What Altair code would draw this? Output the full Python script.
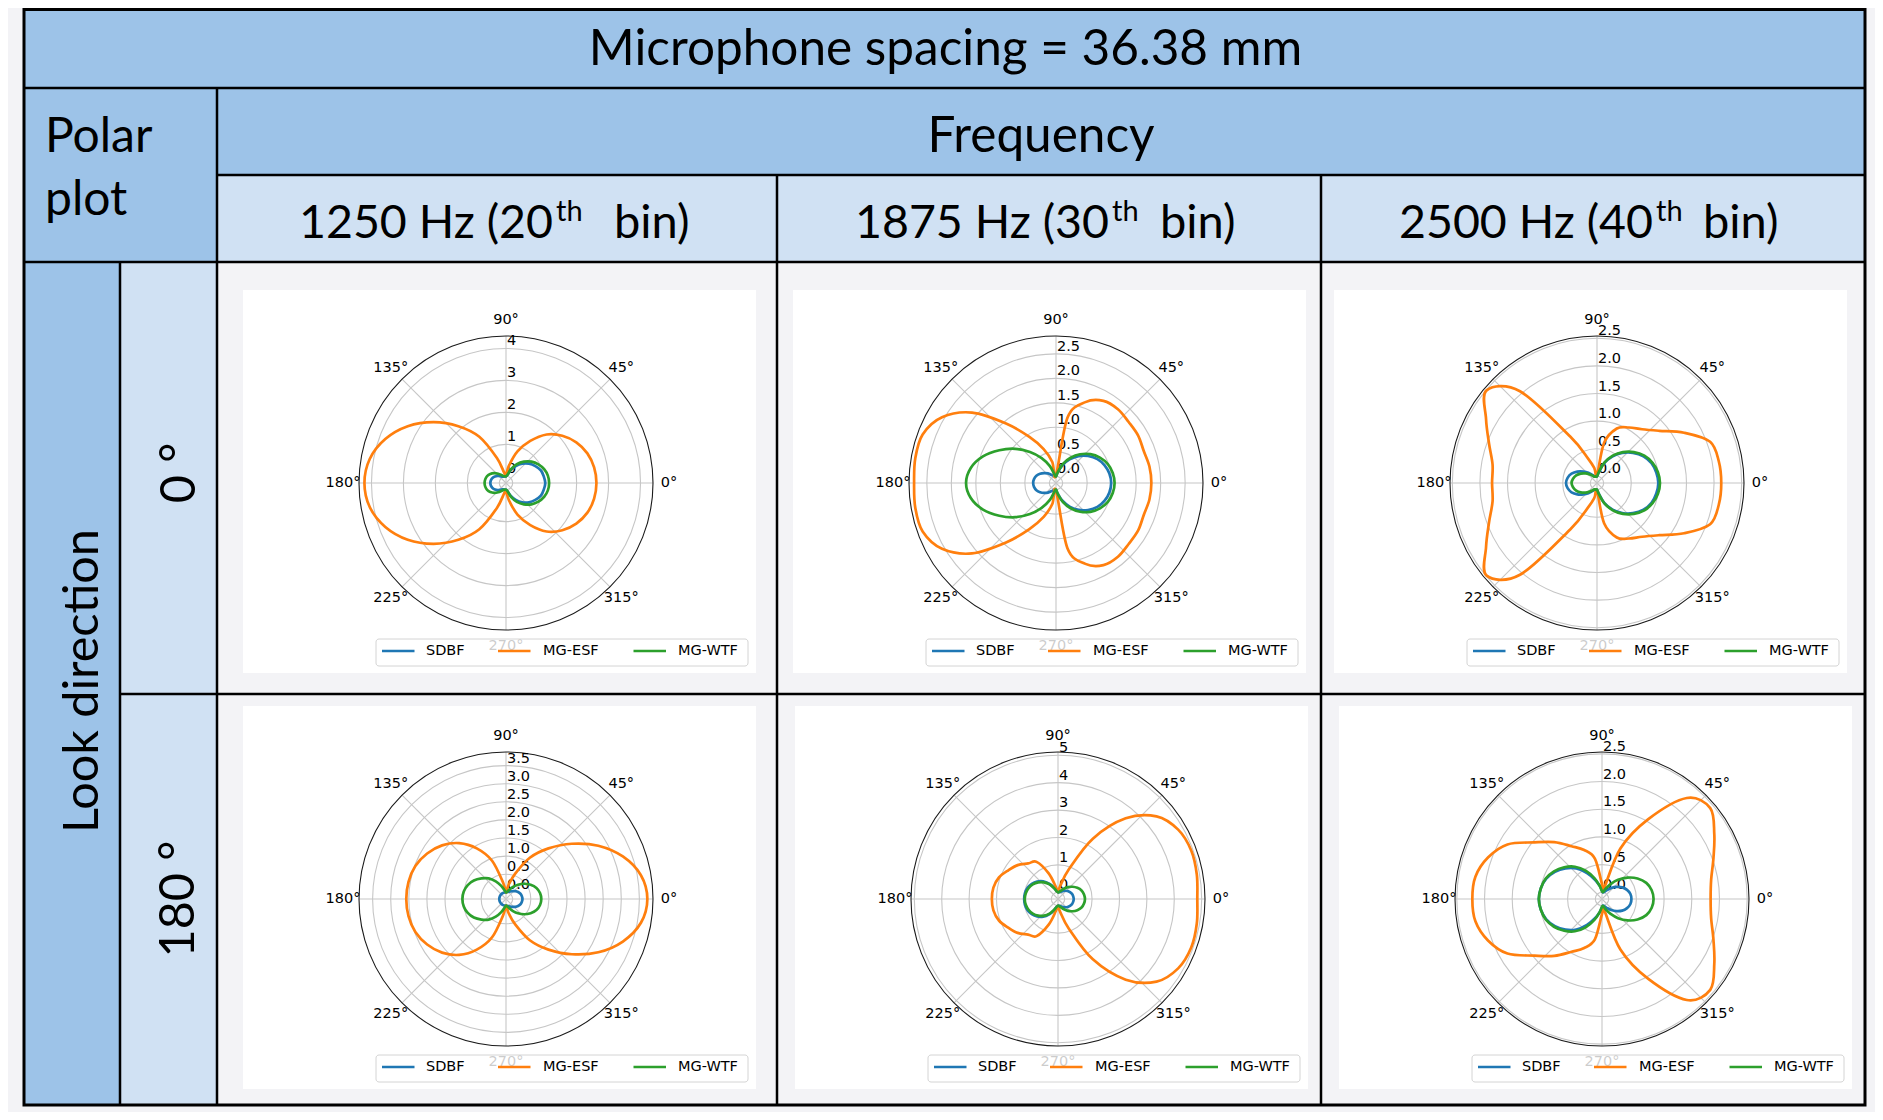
import altair as alt
import pandas as pd

# ---------------- beam-pattern magnitudes (every 10 deg, 0..350) ----------------
ANGLES = list(range(0, 360, 10))
SERIES = ["SDBF", "MG-ESF", "MG-WTF"]
SERIES_COLORS = ["#1f77b4", "#ff7f0e", "#2ca02c"]

# look direction 0 deg
L0_F1250_SDBF = [1.02, 0.99, 0.95, 0.85, 0.73, 0.58, 0.40, 0.21, 0.05, 0.0, 0.0, 0.0, 0.02, 0.07, 0.13, 0.19, 0.24, 0.27, 0.28, 0.27, 0.24, 0.19, 0.13, 0.07, 0.02, 0.0, 0.0, 0.0, 0.05, 0.21, 0.40, 0.58, 0.73, 0.85, 0.95, 0.99]
L0_F1250_ESF = [2.62, 2.59, 2.50, 2.33, 2.09, 1.77, 1.31, 0.84, 0.35, 0.05, 0.12, 0.62, 1.46, 2.11, 2.75, 3.34, 3.81, 4.12, 4.22, 4.12, 3.81, 3.34, 2.75, 2.11, 1.46, 0.62, 0.12, 0.05, 0.35, 0.84, 1.31, 1.77, 2.09, 2.33, 2.50, 2.59]
L0_F1250_WTF = [1.14, 1.12, 1.06, 0.96, 0.83, 0.66, 0.47, 0.25, 0.05, 0.0, 0.0, 0.02, 0.08, 0.17, 0.27, 0.36, 0.42, 0.45, 0.46, 0.45, 0.42, 0.36, 0.27, 0.17, 0.08, 0.02, 0.0, 0.0, 0.05, 0.25, 0.47, 0.66, 0.83, 0.96, 1.06, 1.12]

L0_F1875_SDBF = [0.99, 0.97, 0.92, 0.84, 0.72, 0.58, 0.42, 0.25, 0.09, 0.0, 0.0, 0.02, 0.06, 0.12, 0.18, 0.24, 0.29, 0.32, 0.33, 0.32, 0.29, 0.24, 0.18, 0.12, 0.06, 0.02, 0.0, 0.0, 0.09, 0.25, 0.42, 0.58, 0.72, 0.84, 0.92, 0.97]
L0_F1875_ESF = [1.81, 1.80, 1.77, 1.80, 1.80, 1.83, 1.80, 1.62, 1.22, 0.02, 0.30, 0.60, 0.95, 1.45, 2.10, 2.55, 2.76, 2.78, 2.76, 2.78, 2.76, 2.55, 2.10, 1.45, 0.95, 0.60, 0.30, 0.02, 1.22, 1.62, 1.80, 1.83, 1.80, 1.80, 1.77, 1.80]
L0_F1875_WTF = [1.06, 1.04, 0.99, 0.90, 0.78, 0.63, 0.46, 0.28, 0.10, 0.0, 0.04, 0.23, 0.45, 0.69, 0.95, 1.20, 1.45, 1.63, 1.70, 1.63, 1.45, 1.20, 0.95, 0.69, 0.45, 0.23, 0.04, 0.0, 0.10, 0.28, 0.46, 0.63, 0.78, 0.90, 0.99, 1.04]

L0_F2500_SDBF = [0.99, 0.97, 0.93, 0.85, 0.73, 0.59, 0.43, 0.26, 0.08, 0.0, 0.0, 0.01, 0.05, 0.12, 0.20, 0.29, 0.37, 0.42, 0.44, 0.42, 0.37, 0.29, 0.20, 0.12, 0.05, 0.01, 0.0, 0.0, 0.08, 0.26, 0.43, 0.59, 0.73, 0.85, 0.93, 0.97]
L0_F2500_ESF = [2.13, 2.12, 2.06, 1.70, 1.35, 1.15, 1.04, 0.93, 0.62, 0.02, 0.15, 0.35, 0.85, 2.05, 2.49, 2.20, 1.96, 1.80, 1.78, 1.80, 1.96, 2.20, 2.49, 2.05, 0.85, 0.35, 0.15, 0.02, 0.62, 0.93, 1.04, 1.15, 1.35, 1.70, 2.06, 2.12]
L0_F2500_WTF = [1.02, 1.00, 0.95, 0.87, 0.75, 0.61, 0.45, 0.27, 0.09, 0.0, 0.0, 0.0, 0.03, 0.08, 0.15, 0.22, 0.28, 0.32, 0.34, 0.32, 0.28, 0.22, 0.15, 0.08, 0.03, 0.0, 0.0, 0.0, 0.09, 0.27, 0.45, 0.61, 0.75, 0.87, 0.95, 1.00]

# look direction 180 deg
L180_F1250_SDBF = [0.27, 0.26, 0.24, 0.20, 0.15, 0.10, 0.06, 0.03, 0.01, 0.0, 0.0, 0.0, 0.0, 0.0, 0.0, 0.0, 0.0, 0.0, 0.0, 0.0, 0.0, 0.0, 0.0, 0.0, 0.0, 0.0, 0.0, 0.0, 0.01, 0.03, 0.06, 0.10, 0.15, 0.20, 0.24, 0.26]
L180_F1250_ESF = [3.72, 3.60, 3.25, 2.76, 2.19, 1.64, 1.13, 0.56, 0.20, 0.0, 0.27, 0.94, 1.43, 1.83, 2.12, 2.33, 2.48, 2.55, 2.57, 2.55, 2.48, 2.33, 2.12, 1.83, 1.43, 0.94, 0.27, 0.0, 0.20, 0.56, 1.13, 1.64, 2.19, 2.76, 3.25, 3.60]
L180_F1250_WTF = [0.79, 0.77, 0.71, 0.60, 0.47, 0.33, 0.20, 0.09, 0.02, 0.0, 0.06, 0.20, 0.38, 0.56, 0.70, 0.84, 0.94, 1.00, 1.02, 1.00, 0.94, 0.84, 0.70, 0.56, 0.38, 0.20, 0.06, 0.0, 0.02, 0.09, 0.20, 0.33, 0.47, 0.60, 0.71, 0.77]

L180_F1875_SDBF = [0.33, 0.32, 0.30, 0.26, 0.21, 0.15, 0.09, 0.04, 0.01, 0.0, 0.05, 0.20, 0.40, 0.60, 0.75, 0.86, 0.94, 0.98, 0.99, 0.98, 0.94, 0.86, 0.75, 0.60, 0.40, 0.20, 0.05, 0.0, 0.01, 0.04, 0.09, 0.15, 0.21, 0.26, 0.30, 0.32]
L180_F1875_ESF = [4.84, 4.90, 4.93, 4.82, 4.45, 3.60, 2.30, 0.90, 0.25, 0.02, 0.20, 0.75, 1.32, 1.45, 1.68, 1.85, 2.05, 2.15, 2.17, 2.15, 2.05, 1.85, 1.68, 1.45, 1.32, 0.75, 0.20, 0.02, 0.25, 0.90, 2.30, 3.60, 4.45, 4.82, 4.93, 4.90]
L180_F1875_WTF = [0.74, 0.72, 0.67, 0.57, 0.45, 0.32, 0.19, 0.08, 0.02, 0.0, 0.05, 0.18, 0.37, 0.55, 0.70, 0.82, 0.90, 0.95, 0.97, 0.95, 0.90, 0.82, 0.70, 0.55, 0.37, 0.18, 0.05, 0.0, 0.02, 0.08, 0.19, 0.32, 0.45, 0.57, 0.67, 0.72]

L180_F2500_SDBF = [0.41, 0.40, 0.36, 0.30, 0.22, 0.14, 0.07, 0.02, 0.0, 0.03, 0.12, 0.25, 0.42, 0.60, 0.74, 0.86, 0.95, 1.00, 1.02, 1.00, 0.95, 0.86, 0.74, 0.60, 0.42, 0.25, 0.12, 0.03, 0.0, 0.02, 0.07, 0.14, 0.22, 0.30, 0.36, 0.40]
L180_F2500_ESF = [1.84, 1.88, 2.02, 2.22, 2.43, 2.26, 1.54, 0.85, 0.07, 0.15, 0.62, 0.82, 0.98, 1.22, 1.47, 1.85, 2.07, 2.20, 2.22, 2.20, 2.07, 1.85, 1.47, 1.22, 0.98, 0.82, 0.62, 0.15, 0.07, 0.85, 1.54, 2.26, 2.43, 2.22, 2.02, 1.88]
L180_F2500_WTF = [0.81, 0.79, 0.73, 0.62, 0.48, 0.33, 0.19, 0.08, 0.01, 0.02, 0.12, 0.28, 0.47, 0.64, 0.77, 0.88, 0.96, 1.00, 1.02, 1.00, 0.96, 0.88, 0.77, 0.64, 0.47, 0.28, 0.12, 0.02, 0.01, 0.08, 0.19, 0.33, 0.48, 0.62, 0.73, 0.79]

PATTERNS = {
    "L0_F1250": [L0_F1250_SDBF, L0_F1250_ESF, L0_F1250_WTF],
    "L0_F1875": [L0_F1875_SDBF, L0_F1875_ESF, L0_F1875_WTF],
    "L0_F2500": [L0_F2500_SDBF, L0_F2500_ESF, L0_F2500_WTF],
    "L180_F1250": [L180_F1250_SDBF, L180_F1250_ESF, L180_F1250_WTF],
    "L180_F1875": [L180_F1875_SDBF, L180_F1875_ESF, L180_F1875_WTF],
    "L180_F2500": [L180_F2500_SDBF, L180_F2500_ESF, L180_F2500_WTF],
}

# radial axis of each polar panel
PANEL_KEYS = ["L0_F1250", "L0_F1875", "L0_F2500", "L180_F1250", "L180_F1875", "L180_F2500"]
PANEL_RMIN = [-0.21, -0.136, -0.121, -0.185, -0.244, -0.121]
PANEL_RMAX = [4.39, 2.864, 2.542, 3.876, 5.121, 2.533]
PANEL_TICKS = [
    [0, 1, 2, 3, 4],
    [0.0, 0.5, 1.0, 1.5, 2.0, 2.5],
    [0.0, 0.5, 1.0, 1.5, 2.0, 2.5],
    [0.0, 0.5, 1.0, 1.5, 2.0, 2.5, 3.0, 3.5],
    [0, 1, 2, 3, 4, 5],
    [0.0, 0.5, 1.0, 1.5, 2.0, 2.5],
]
PANEL_TICK_DECIMALS = [0, 1, 1, 1, 0, 1]
THETA_TICKS = [0, 45, 90, 135, 180, 225, 270, 315]

# table texts
TITLE = "Microphone spacing = 36.38 mm"
HEADER_FREQ = "Frequency"
HEADER_POLAR = ["Polar", "plot"]
FREQ_MAIN = ["1250 Hz (20", "1875 Hz (30", "2500 Hz (40"]
FREQ_SUP = ["th", "th", "th"]
FREQ_TAIL = ["bin)", "bin)", "bin)"]
ROW_HEADER = "Look direction"
ROW_LABELS = ["0 \u00b0", "180 \u00b0"]

# ---------------- layout (pixels) ----------------
W, H = 1867, 1104
X_SCALE = alt.Scale(domain=[8, 8 + W], range=[0, W], nice=False, zero=False)
Y_SCALE = alt.Scale(domain=[8, 8 + H], range=[0, H], nice=False, zero=False)

PANEL_CX = [506, 1056, 1597, 506, 1058, 1602]
PANEL_CY = [483, 483, 483, 899, 899, 899]
POLAR_R = 147
THETA_LABEL_R = 163

DARK = "#9DC3E8"
LIGHT = "#D0E1F3"
BG = "#F3F3F6"
GRID = "#c6c6c6"
TFONT = "Lato"
MFONT = "DejaVu Sans"


def ex(f):
    return alt.X(f"{f}:Q", scale=X_SCALE, axis=None)


def ey(f):
    return alt.Y(f"{f}:Q", scale=Y_SCALE, axis=None)


panel_df = pd.DataFrame({
    "panel": PANEL_KEYS, "cx": PANEL_CX, "cy": PANEL_CY,
    "rmin": PANEL_RMIN, "rmax": PANEL_RMAX,
})

PX = f"(datum.val - datum.rmin) / (datum.rmax - datum.rmin) * {POLAR_R}"

# ---------------- table ----------------
cells = pd.DataFrame([
    dict(x=24, x2=1865, y=8, y2=88, fill=DARK),
    dict(x=24, x2=217, y=88, y2=262, fill=DARK),
    dict(x=217, x2=1865, y=88, y2=175, fill=DARK),
    dict(x=217, x2=1865, y=175, y2=262, fill=LIGHT),
    dict(x=24, x2=120, y=262, y2=1105, fill=DARK),
    dict(x=120, x2=217, y=262, y2=1105, fill=LIGHT),
])
cell_layer = alt.Chart(cells).mark_rect(strokeWidth=0).encode(
    x=ex("x"), x2="x2:Q", y=ey("y"), y2="y2:Q", fill=alt.Fill("fill:N", scale=None))

lines = pd.DataFrame([
    dict(x=24, x2=1865, y=88, y2=88),
    dict(x=217, x2=1865, y=175, y2=175),
    dict(x=24, x2=1865, y=262, y2=262),
    dict(x=120, x2=1865, y=694, y2=694),
    dict(x=217, x2=217, y=88, y2=1105),
    dict(x=120, x2=120, y=262, y2=1105),
    dict(x=777, x2=777, y=175, y2=1105),
    dict(x=1321, x2=1321, y=175, y2=1105),
])
line_layer = alt.Chart(lines).mark_rule(color="black", strokeWidth=2.5).encode(
    x=ex("x"), x2="x2:Q", y=ey("y"), y2="y2:Q")

border = pd.DataFrame([dict(x=24, x2=1865, y=9.5, y2=1105)])
border_layer = alt.Chart(border).mark_rect(fillOpacity=0, stroke="black", strokeWidth=3).encode(
    x=ex("x"), x2="x2:Q", y=ey("y"), y2="y2:Q")

# header texts
hdr = pd.DataFrame([
    dict(x=945.5, y=65, t=TITLE),
    dict(x=1041, y=152, t=HEADER_FREQ),
])
hdr_layer = alt.Chart(hdr).mark_text(font=TFONT, fontSize=49.5, align="center", baseline="alphabetic", color="black").encode(
    x=ex("x"), y=ey("y"), text="t:N")

polar_hdr = pd.DataFrame([dict(x=45, y=152, t=HEADER_POLAR[0]), dict(x=45, y=215, t=HEADER_POLAR[1])])
polar_layer = alt.Chart(polar_hdr).mark_text(font=TFONT, fontSize=48, align="left", baseline="alphabetic", color="black").encode(
    x=ex("x"), y=ey("y"), text="t:N")

FREQ_ANCHOR_MAIN = [553, 1109, 1653]
FREQ_ANCHOR_SUP = [556, 1112, 1656]
FREQ_ANCHOR_TAIL = [614, 1160, 1703]
fm = pd.DataFrame({"x": FREQ_ANCHOR_MAIN, "y": [238] * 3, "t": FREQ_MAIN})
fs = pd.DataFrame({"x": FREQ_ANCHOR_SUP, "y": [221] * 3, "t": FREQ_SUP})
ft = pd.DataFrame({"x": FREQ_ANCHOR_TAIL, "y": [238] * 3, "t": FREQ_TAIL})
fm_layer = alt.Chart(fm).mark_text(font=TFONT, fontSize=46.5, align="right", baseline="alphabetic", color="black").encode(
    x=ex("x"), y=ey("y"), text="t:N")
fs_layer = alt.Chart(fs).mark_text(font=TFONT, fontSize=29, align="left", baseline="alphabetic", color="black").encode(
    x=ex("x"), y=ey("y"), text="t:N")
ft_layer = alt.Chart(ft).mark_text(font=TFONT, fontSize=47, align="left", baseline="alphabetic", color="black").encode(
    x=ex("x"), y=ey("y"), text="t:N")

rot = pd.DataFrame([
    dict(x=98, y=681, t=ROW_HEADER),
    dict(x=195, y=473, t=ROW_LABELS[0]),
    dict(x=194, y=899, t=ROW_LABELS[1]),
])
rot_layer = alt.Chart(rot).mark_text(font=TFONT, fontSize=48.5, align="center", baseline="alphabetic", angle=270, color="black").encode(
    x=ex("x"), y=ey("y"), text="t:N")

# ---------------- polar panels ----------------
panel_bg = panel_df.assign(x=panel_df.cx - 263, x2=panel_df.cx + 250, y=panel_df.cy - 193, y2=panel_df.cy + 190)
panel_bg_layer = alt.Chart(panel_bg).mark_rect(fill="white", strokeWidth=0).encode(
    x=ex("x"), x2="x2:Q", y=ey("y"), y2="y2:Q")

ring_rows = []
for i, key in enumerate(PANEL_KEYS):
    for t in PANEL_TICKS[i]:
        lab = f"{t:.{PANEL_TICK_DECIMALS[i]}f}"
        ring_rows.append(dict(panel=key, val=t, label=lab))
rings = pd.DataFrame(ring_rows).merge(panel_df, on="panel")
ring_base = alt.Chart(rings).transform_calculate(px=PX).transform_calculate(
    size="pow(2 * datum.px, 2)", ly="datum.cy - datum.px - 3", lx="datum.cx + 1")
ring_layer = ring_base.mark_point(shape="circle", filled=False, stroke=GRID, strokeWidth=1.1, opacity=1).encode(
    x=ex("cx"), y=ey("cy"), size=alt.Size("size:Q", scale=None, legend=None))
rlabel_layer = ring_base.mark_text(font=MFONT, fontSize=14.5, align="left", baseline="alphabetic", color="black").encode(
    x=ex("lx"), y=ey("ly"), text="label:N")

spoke_rows = [dict(panel=k, ang=a) for k in PANEL_KEYS for a in THETA_TICKS]
spokes = pd.DataFrame(spoke_rows).merge(panel_df, on="panel")
spoke_base = alt.Chart(spokes).transform_calculate(
    x2=f"datum.cx + {POLAR_R} * cos(datum.ang * PI / 180)",
    y2=f"datum.cy - {POLAR_R} * sin(datum.ang * PI / 180)",
    lx=f"datum.cx + {THETA_LABEL_R} * cos(datum.ang * PI / 180)",
    ly=f"datum.cy - {THETA_LABEL_R} * sin(datum.ang * PI / 180)",
    lab="datum.ang + '\u00b0'",
)
spoke_layer = spoke_base.mark_rule(color=GRID, strokeWidth=1.1).encode(
    x=ex("cx"), y=ey("cy"), x2="x2:Q", y2="y2:Q")
tlabel_layer = spoke_base.mark_text(font=MFONT, fontSize=14.5, align="center", baseline="middle", color="black").encode(
    x=ex("lx"), y=ey("ly"), text="lab:N")

spine_layer = alt.Chart(panel_df).transform_calculate(size=f"pow(2 * {POLAR_R}, 2)").mark_point(
    shape="circle", filled=False, stroke="#1a1a1a", strokeWidth=1.1, opacity=1).encode(
    x=ex("cx"), y=ey("cy"), size=alt.Size("size:Q", scale=None, legend=None))

curve_rows = []
for key in PANEL_KEYS:
    for s, vals in zip(SERIES, PATTERNS[key]):
        for a, r in zip(ANGLES, vals):
            curve_rows.append(dict(panel=key, series=s, angle=a, val=r, key=key + "|" + s))
curves = pd.DataFrame(curve_rows).merge(panel_df, on="panel")
curve_layers = []
for s, c in zip(SERIES, SERIES_COLORS):
    curve_layers.append(
        alt.Chart(curves).transform_filter(alt.datum.series == s)
        .transform_calculate(px=PX)
        .transform_calculate(
            x="datum.cx + datum.px * cos(datum.angle * PI / 180)",
            y="datum.cy - datum.px * sin(datum.angle * PI / 180)")
        .mark_line(interpolate="cardinal-closed", strokeWidth=2.7, color=c)
        .encode(x=ex("x"), y=ey("y"), detail="key:N", order="angle:Q")
    )

# legends (one per panel)
LEG_BOX = (-130, 242, 156, 183)
LEG_LINE_X = [-124, -8, 127.5]
LEG_LINE_LEN = 32.5
LEG_TEXT_X = [-80, 37, 172]
LEG_Y = 168
leg_box = panel_df.assign(x=panel_df.cx + LEG_BOX[0], x2=panel_df.cx + LEG_BOX[1],
                          y=panel_df.cy + LEG_BOX[2], y2=panel_df.cy + LEG_BOX[3])
leg_box_layer = alt.Chart(leg_box).mark_rect(fill="white", fillOpacity=0.8, stroke="#d4d4d4", strokeWidth=1,
                                             cornerRadius=3).encode(x=ex("x"), x2="x2:Q", y=ey("y"), y2="y2:Q")
leg_rows = []
for i, key in enumerate(PANEL_KEYS):
    for j, s in enumerate(SERIES):
        leg_rows.append(dict(panel=key, series=s,
                             lx=PANEL_CX[i] + LEG_LINE_X[j], lx2=PANEL_CX[i] + LEG_LINE_X[j] + LEG_LINE_LEN,
                             tx=PANEL_CX[i] + LEG_TEXT_X[j], ly=PANEL_CY[i] + LEG_Y))
leg = pd.DataFrame(leg_rows)
leg_line_layer = alt.Chart(leg).mark_rule(strokeWidth=2.7).encode(
    x=ex("lx"), x2="lx2:Q", y=ey("ly"),
    color=alt.Color("series:N", scale=alt.Scale(domain=SERIES, range=SERIES_COLORS), legend=None))
leg_text_layer = alt.Chart(leg).mark_text(font=MFONT, fontSize=14.5, align="left", baseline="middle", color="black").encode(
    x=ex("tx"), y=ey("ly"), text="series:N")

chart = alt.layer(
    cell_layer, panel_bg_layer, ring_layer, spoke_layer, spine_layer, rlabel_layer, tlabel_layer,
    *curve_layers, leg_box_layer, leg_line_layer, leg_text_layer,
    line_layer, border_layer, hdr_layer, polar_layer, fm_layer, fs_layer, ft_layer, rot_layer,
).properties(
    width=W, height=H, background=BG, padding=0, autosize=alt.AutoSizeParams(type="none"),
).configure_view(stroke=None)

chart.save("out.html", embed_options={"renderer": "svg", "actions": False})
